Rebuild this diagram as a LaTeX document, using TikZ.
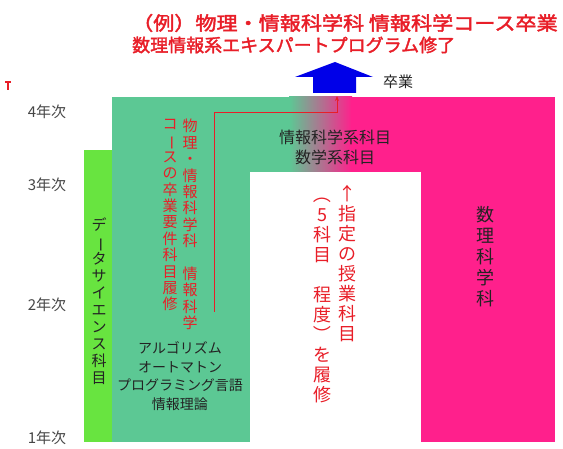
\documentclass[tikz,border=0pt]{standalone}
\usepackage{fontspec}
\setmainfont{Noto Sans CJK JP}
\newfontfamily\titlefont{Noto Sans CJK JP}[FakeBold=2]
\newcommand\tateturn[1]{\rotatebox[origin=c]{-90}{#1}}
\usetikzlibrary{arrows.meta}
\definecolor{limebar}{RGB}{104,228,64}
\definecolor{tealbar}{RGB}{92,200,148}
\definecolor{pinkbar}{RGB}{255,32,140}
\definecolor{redtext}{RGB}{232,30,40}
\definecolor{arrowblue}{RGB}{0,0,232}
\definecolor{yeargray}{RGB}{70,70,70}
\definecolor{darktext}{RGB}{35,35,35}

\begin{document}
\begin{tikzpicture}[x=1pt,y=-1pt,
    title/.style={anchor=west,inner sep=0pt,text=redtext,font=\titlefont\fontsize{#1}{#1}\selectfont},
    year/.style={inner sep=0pt,text=yeargray,font=\fontsize{15}{15}\selectfont},
    subj/.style={align=center,inner sep=0pt,text=darktext},
    tate/.style 2 args={align=center,anchor=north,inner sep=0pt,font=\fontsize{#1}{#2}\selectfont},
    redline/.style={draw=redtext,line width=1pt}]
    \useasboundingbox (0,0) rectangle (563,449);
    \fill[limebar] (84,150) rectangle (113,442);
    \fill[tealbar] (112,97) rectangle (250,442);
    \fill[tealbar] (249,97) rectangle (290,172);
    \shade[left color=tealbar,right color=pinkbar] (289,97) rectangle (352,172);
    \fill[pinkbar] (351,97) rectangle (555,172);
    \fill[pinkbar] (421,171) rectangle (555,442);
    \fill[arrowblue] (313,93) -- (313,77) -- (295,77) -- (335,62) -- (373,77) -- (356,77) -- (356,93) -- cycle;
    \draw[redtext,line width=1.3pt] (5,82) -- (11,82) (8,82) -- (8,90);
    \node[title=19] (title1) at (132,23) {\scalebox{1.11}[1]{（例）物理・情報科学科 情報科学コース卒業}};
    \node[title=18] (title2) at (132,45) {数理情報系エキスパートプログラム修了};
    \node[subj,font=\fontsize{15}{15}\selectfont] (sotsugyo) at (398,82) {卒業};
    \node[year] (y4) at (47,112) {4年次};
    \node[year] (y3) at (47,185) {3年次};
    \node[year] (y2) at (47,305) {2年次};
    \node[year] (y1) at (47,438) {1年次};
    \node[tate={15}{17},text=darktext] (ds) at (99,218) {デ\\\tateturn{ー}\\タ\\サ\\イ\\エ\\ン\\ス\\科\\目};
    \node[tate={15}{16.4},text=redtext] (req1) at (190,119) {物\\理\\・\\情\\報\\科\\学\\科\\　\\情\\報\\科\\学};
    \node[tate={15}{16.4},text=redtext] (req2) at (170,119) {コ\\\tateturn{ー}\\ス\\の\\卒\\業\\要\\件\\科\\目\\履\\修};
    \node[subj,font=\fontsize{14}{18.5}\selectfont] (basic) at (180,376) {アルゴリズム\\オートマトン\\プログラミング言語\\情報理論};
    \node[subj,font=\fontsize{16}{20}\selectfont] (upper) at (335,147) {情報科学系科目\\数学系科目};
    \node[tate={18}{20},text=redtext] (pick1) at (347,185) {↑\\指\\定\\の\\授\\業\\科\\目};
    \node[tate={18}{20},text=redtext] (pick2) at (322,185) {\tateturn{（}\\5\\科\\目\\　\\程\\度\\\tateturn{）}\\を\\履\\修};
    \node[tate={18}{21},text=darktext] (math) at (485,206) {数\\理\\科\\学\\科};
    \coordinate (reqend) at (214,312);
    \coordinate (bend) at (337,113);
    \coordinate (goal) at (337,96);
    \draw[redline,-{Stealth[length=5pt,width=4pt]}] (reqend) |- (bend) -- (goal);
\end{tikzpicture}
\end{document}
